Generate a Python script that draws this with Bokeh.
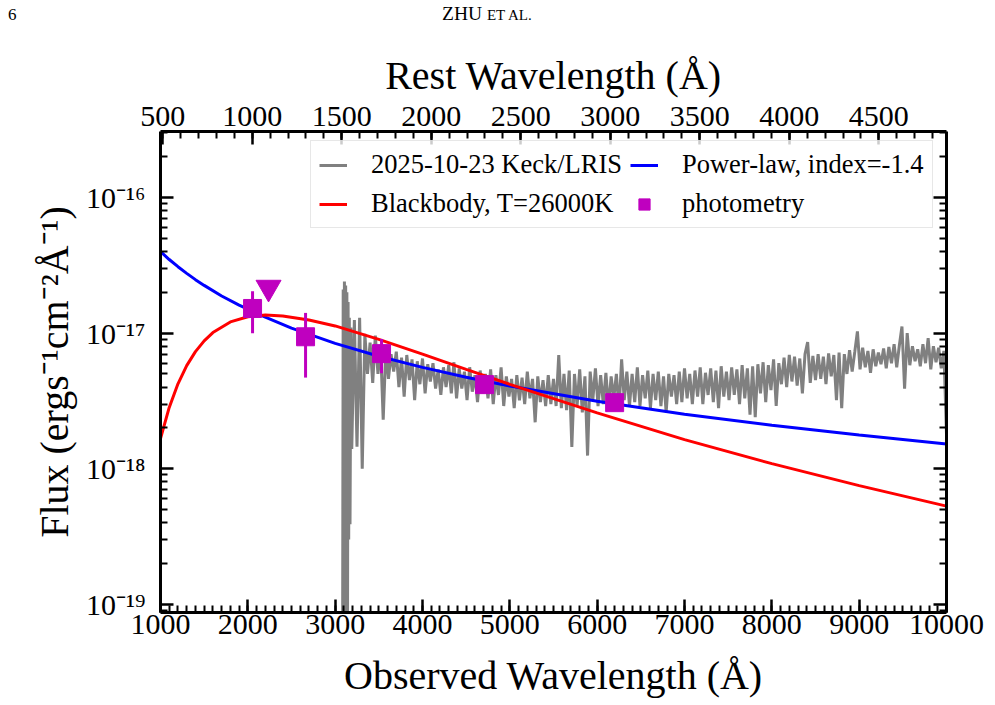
import numpy as np
from bokeh.plotting import figure
from bokeh.layouts import column
from bokeh.models import (Range1d, LinearAxis, LogAxis, SingleIntervalTicker, FixedTicker,
                          CustomJSTickFormatter, Legend, LegendItem, Div)
from bokeh.embed import file_html
from bokeh.resources import INLINE

FONT = "Liberation Serif"

# ---------------- data ----------------
obs_to_rest = 2.05            # observed / rest wavelength
x_limits = [1000, 10000]
y_limits = [8.7e-20, 3.07e-16]
y_major_ticks = [1e-19, 1e-18, 1e-17, 1e-16]

spec_label = "2025-10-23 Keck/LRIS"
# blue edge of the spectrum (very noisy)
spec_edge_wave = [3085, 3092, 3099, 3106, 3113, 3120, 3127, 3134, 3141, 3148, 3155, 3162, 3170, 3180]
spec_edge_flux_1e18 = [0.04, 21.0, 0.04, 24.0, 0.05, 22.5, 0.04, 20.0, 0.05, 17.0, 0.3, 13.0, 0.39, 11.0]
# rest of the spectrum on a regular grid
spec_wave_start = 3190
spec_wave_step = 30
spec_flux_1e18 = [
    1.4, 12.5, 1.45, 13.0, 1.0, 9.9, 5.0,
    8.5, 4.3, 9.6, 5.0, 8.0, 2.3, 7.6, 4.6, 7.0, 5.2,
    7.3, 4.0, 6.6, 3.4, 6.9, 4.5, 6.4, 3.2, 6.2, 4.2,
    6.5, 3.6, 5.9, 4.4, 6.0, 3.9, 5.4, 3.5, 5.6, 4.0,
    5.8, 3.6, 6.1, 3.3, 5.5, 3.9, 5.2, 3.2, 5.6, 3.7,
    4.9, 3.1, 5.3, 3.6, 5.0, 3.3, 5.4, 3.0, 4.9, 3.5,
    5.6, 2.9, 4.8, 3.4, 4.6, 2.8, 4.9, 3.2, 4.7, 3.0,
    5.2, 3.3, 4.6, 2.2, 4.8, 3.1, 4.5, 2.9, 4.9, 3.0,
    4.6, 2.9, 6.9, 2.8, 5.0, 2.7, 5.3, 1.45, 5.0, 2.9,
    5.4, 2.6, 4.8, 1.25, 5.2, 3.2, 5.5, 2.9, 4.9, 3.0,
    5.1, 2.8, 4.8, 3.3, 5.0, 2.7, 6.4, 3.2, 5.2, 2.9,
    5.0, 3.1, 5.6, 2.9, 4.9, 3.3, 5.3, 2.8, 5.0, 3.2,
    5.2, 2.9, 4.8, 2.6, 5.0, 3.4, 4.9, 3.0, 5.2, 3.1,
    5.5, 3.3, 5.0, 3.0, 5.3, 3.4, 5.6, 3.0, 5.1, 3.5,
    5.5, 3.1, 5.3, 2.8, 5.7, 3.4, 5.2, 3.2, 5.6, 3.5,
    5.4, 3.0, 5.8, 3.3, 5.5, 2.5, 5.7, 2.4, 5.9, 3.6,
    6.1, 3.1, 5.8, 3.8, 6.4, 2.9, 6.0, 4.2, 6.6, 4.0,
    6.9, 4.4, 6.7, 4.1, 6.5, 3.6, 7.0, 8.6, 4.3, 6.8,
    4.5, 7.0, 4.6, 6.7, 4.2, 7.1, 4.8, 6.9, 3.2, 7.2,
    2.8, 7.0, 5.0, 7.5, 5.2, 7.3, 10.3, 5.4, 7.8, 5.6,
    7.4, 5.1, 7.6, 5.7, 7.2, 5.9, 7.7, 5.5, 7.9, 6.0,
    8.3, 5.6, 8.1, 11.2, 3.9, 10.0, 5.8, 8.0, 6.2, 7.6,
    5.7, 8.3, 6.0, 9.2, 5.4, 8.0, 6.1, 7.8, 5.5, 7.4,
    1.8,
]

pl_label = "Power-law, index=-1.4"
pl_wave = [1000, 1100, 1200, 1300, 1400, 1500, 1700, 1900, 2200, 2500, 3000,
           3500, 4000, 4500, 5000, 6000, 7000, 8000, 9000, 10000]
pl_flux_1e18 = [40.0, 34.9, 30.9, 27.6, 24.8, 22.5, 18.8, 16.1, 13.1, 10.9, 8.4,
                6.75, 5.59, 4.73, 4.07, 3.14, 2.52, 2.09, 1.77, 1.52]

bb_label = "Blackbody, T=26000K"
bb_wave = [1000, 1100, 1200, 1300, 1400, 1500, 1600, 1800, 2000, 2200, 2400,
           2700, 3000, 3500, 4000, 4500, 5000, 6000, 7000, 8000, 9000, 10000]
bb_flux_1e18 = [1.67, 2.83, 4.23, 5.76, 7.31, 8.77, 10.1, 12.1, 13.2, 13.6, 13.4,
                12.5, 11.3, 9.0, 7.0, 5.4, 4.19, 2.58, 1.64, 1.09, 0.75, 0.53]

phot_label = "photometry"
phot_wave = [2054, 2661, 3531, 4711, 6200]
phot_flux_1e18 = [15.2, 9.4, 7.06, 4.17, 3.07]
phot_err_1e18 = [5.2, 4.7, 2.0, 0.3, 0.2]
limit_wave = [2237]
limit_flux_1e18 = [21.7]

page_number = "6"
running_head = ("ZHU", "ET AL.")

# ---------------- derived ----------------
E18 = 1e-18
grid_wave = [spec_wave_start + spec_wave_step * i for i in range(len(spec_flux_1e18))]
spec_wave = spec_edge_wave + grid_wave
spec_flux = [v * E18 for v in spec_edge_flux_1e18 + spec_flux_1e18]
pl_flux = [v * E18 for v in pl_flux_1e18]
bb_flux = [v * E18 for v in bb_flux_1e18]
phot_flux = [v * E18 for v in phot_flux_1e18]
phot_lo = [(v - e) * E18 for v, e in zip(phot_flux_1e18, phot_err_1e18)]
phot_hi = [(v + e) * E18 for v, e in zip(phot_flux_1e18, phot_err_1e18)]
limit_flux = [v * E18 for v in limit_flux_1e18]

GRAY = "#808080"
BLUE = "#0000ff"
RED = "#ff0000"
MAG = "#bf00bf"

HEADER_H = 28

p = figure(width=995, height=705 - HEADER_H,
           x_range=Range1d(*x_limits), y_range=Range1d(*y_limits),
           y_axis_type="log", output_backend="svg", toolbar_location=None,
           min_border_left=160, min_border_right=49, min_border_top=131 - HEADER_H,
           min_border_bottom=93)
p.xgrid.grid_line_color = None
p.ygrid.grid_line_color = None
p.outline_line_color = None
p.background_fill_color = "white"
p.border_fill_color = "white"
p.margin = 0

spec_r = p.line(spec_wave, spec_flux, line_color=GRAY, line_width=3)
pl_r = p.line(pl_wave, pl_flux, line_color=BLUE, line_width=3)
bb_r = p.line(bb_wave, bb_flux, line_color=RED, line_width=3)
err_r = p.segment(x0=phot_wave, y0=phot_lo, x1=phot_wave, y1=phot_hi,
                  line_color=MAG, line_width=3)
sq_r = p.scatter(phot_wave, phot_flux, marker="square", size=18,
                 fill_color=MAG, line_color=MAG)
lim_r = p.scatter(limit_wave, limit_flux, marker="inverted_triangle", size=25,
                  fill_color=MAG, line_color=MAG)

# ---------------- axes ----------------
sup_js = """
const sup = {'-':'\u207b','0':'\u2070','1':'\u00b9','2':'\u00b2','3':'\u00b3','4':'\u2074',
             '5':'\u2075','6':'\u2076','7':'\u2077','8':'\u2078','9':'\u2079'};
const e = Math.round(Math.log10(tick));
return '10' + String(e).split('').map(c => sup[c]).join('');
"""
minor_y = [m * 10.0 ** e for e in range(-20, -15) for m in range(2, 10)]

bottom = p.xaxis[0]
bottom.ticker = SingleIntervalTicker(interval=1000, num_minor_ticks=10)
bottom.axis_label = "Observed Wavelength (Å)"

left = p.yaxis[0]
left.ticker = FixedTicker(ticks=y_major_ticks, minor_ticks=minor_y)
left.formatter = CustomJSTickFormatter(code=sup_js)
left.axis_label = "Flux (ergs\u207b\u00b9cm\u207b\u00b2Å\u207b\u00b9)"

p.extra_x_ranges = {"rest": Range1d(x_limits[0] / obs_to_rest, x_limits[1] / obs_to_rest)}
top = LinearAxis(x_range_name="rest",
                 ticker=SingleIntervalTicker(interval=500, num_minor_ticks=5),
                 axis_label="Rest Wavelength (Å)")
p.add_layout(top, "above")

right = LogAxis(ticker=FixedTicker(ticks=y_major_ticks, minor_ticks=minor_y),
                formatter=CustomJSTickFormatter(code="return '';"))
p.add_layout(right, "right")

for ax in (bottom, left, top, right):
    ax.axis_line_width = 3
    ax.axis_line_color = "black"
    ax.major_tick_in = 13
    ax.major_tick_out = 0
    ax.minor_tick_in = 7
    ax.minor_tick_out = 0
    ax.major_tick_line_width = 2.5
    ax.minor_tick_line_width = 2
    ax.major_label_text_font = FONT
    ax.major_label_text_font_size = "30px"
    ax.major_label_text_color = "black"
    ax.axis_label_text_font = FONT
    ax.axis_label_text_font_size = "40px"
    ax.axis_label_text_font_style = "normal"
    ax.axis_label_text_color = "black"
    ax.major_label_standoff = 6
    ax.axis_label_standoff = 6
left.major_label_standoff = 15
bottom.major_label_standoff = 2
bottom.axis_label_standoff = 16

# ---------------- legend ----------------
legend = Legend(items=[
    LegendItem(label=spec_label, renderers=[spec_r]),
    LegendItem(label=bb_label, renderers=[bb_r]),
    LegendItem(label=pl_label, renderers=[pl_r]),
    LegendItem(label=phot_label, renderers=[sq_r]),
], ncols=2, location=(150, 384))
legend.margin = 0
legend.padding = 8
legend.spacing = 8
legend.glyph_width = 28
legend.glyph_height = 28
legend.label_height = 28
legend.label_standoff = 24
legend.label_text_font = FONT
legend.label_text_font_size = "26.5px"
legend.label_text_color = "black"
legend.border_line_color = "#d0d0d0"
legend.border_line_width = 1.5
legend.background_fill_alpha = 0.8
p.add_layout(legend)

# ---------------- page header (running head) ----------------
header_html = (
    f'<div style="font-family:\'{FONT}\',serif;color:black;line-height:{HEADER_H}px;'
    f'height:{HEADER_H}px;white-space:nowrap;">'
    f'<span style="display:inline-block;width:442px;padding-left:8px;font-size:17px;">{page_number}</span>'
    f'<span style="font-size:19.5px;">{running_head[0]} </span>'
    f'<span style="font-size:15px;">{running_head[1]}</span>'
    '</div>'
)
header = Div(text=header_html, width=995, height=HEADER_H, margin=0)

layout = column(header, p, spacing=0, margin=0)
open("out.html", "w", encoding="utf-8").write(file_html(layout, INLINE))
